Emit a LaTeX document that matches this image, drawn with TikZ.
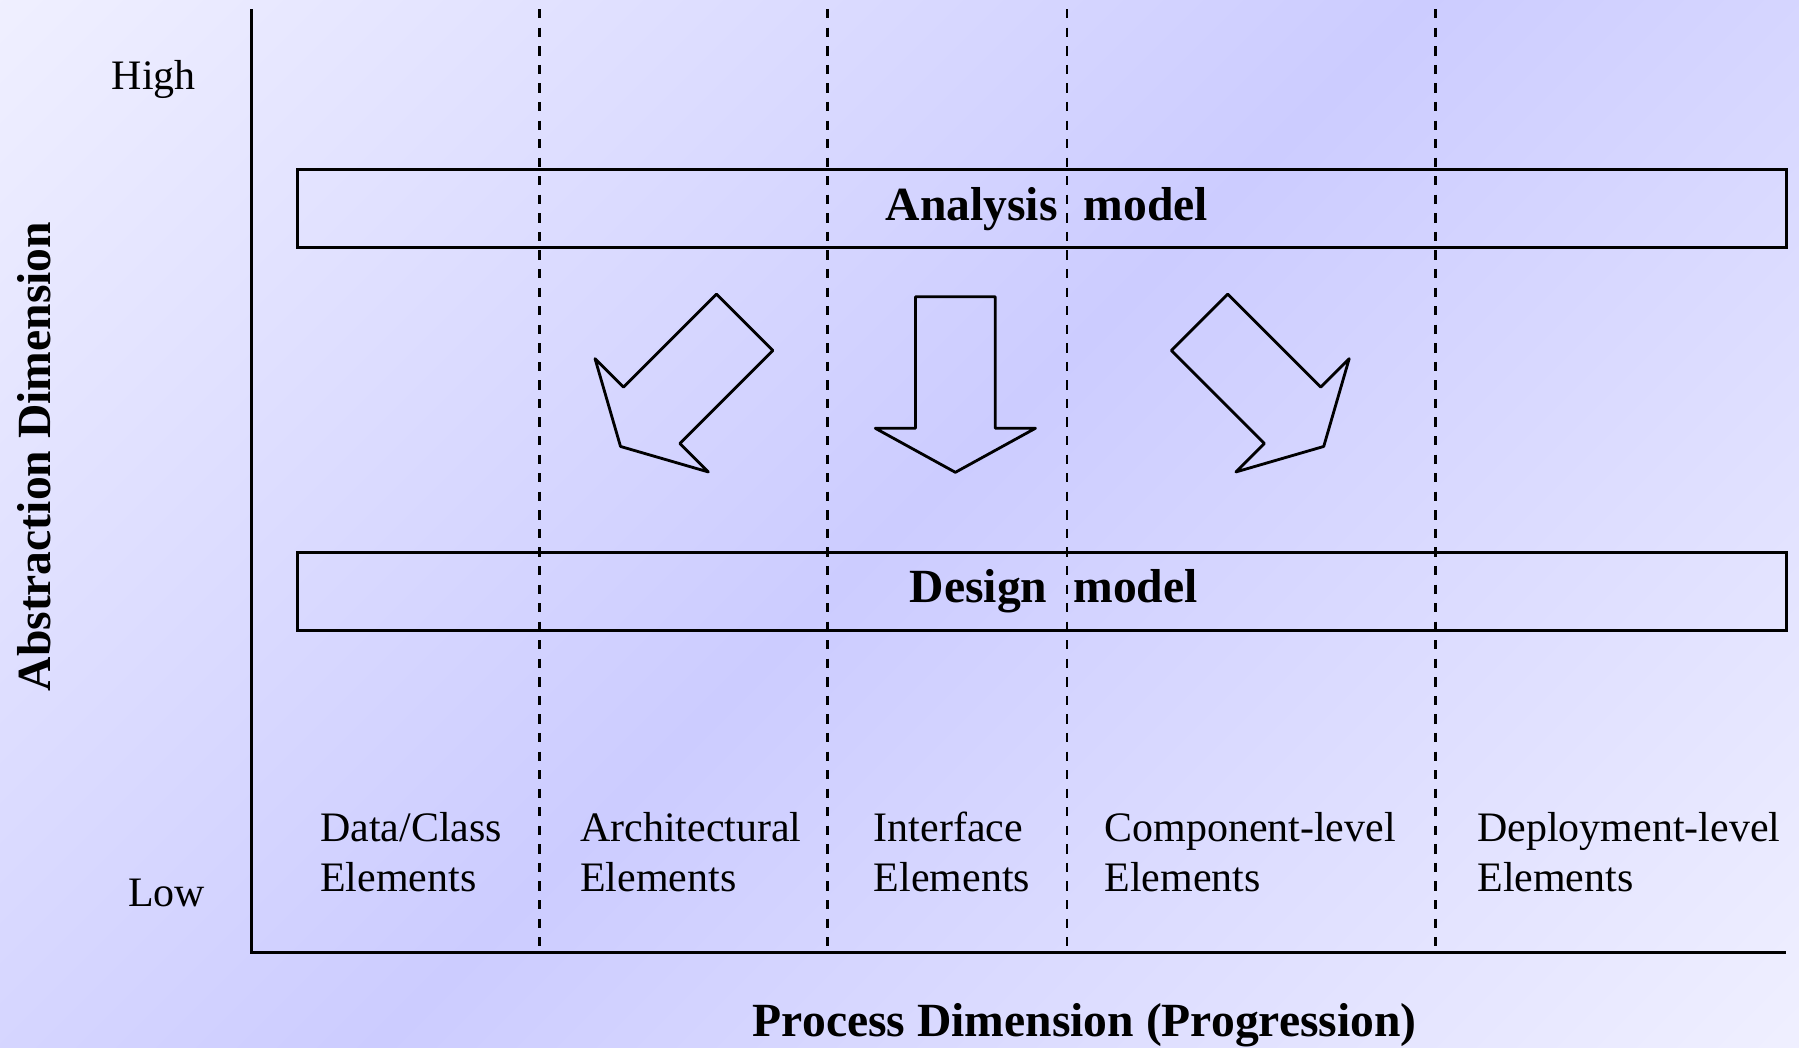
\documentclass[tikz,border=0pt]{standalone}
\usepackage{fontspec}
\setmainfont{Liberation Serif}
\usepackage{xcolor}
\definecolor{bandblue}{RGB}{204,204,255}
\definecolor{paleblue}{RGB}{254,254,255}
\pgfdeclareverticalshading{lavenderband}{100bp}{color(0bp)=(paleblue); color(50bp)=(bandblue); color(100bp)=(paleblue)}

\begin{document}
\begin{tikzpicture}[x=0.01cm,y=0.01cm]
      \tikzstyle{modelbox}=[draw,line width=0.7pt,minimum width=12.97cm,minimum height=0.68cm,font=\fontsize{11.8}{14}\selectfont\bfseries]
      \tikzstyle{colhead}=[font=\fontsize{10.4}{12.4}\selectfont,align=left,anchor=base west,inner sep=0pt]
      \tikzstyle{dimlabel}=[font=\fontsize{11.8}{14}\selectfont\bfseries,inner sep=0pt]
      \tikzstyle{divider}=[line width=0.7pt,dash pattern=on 2.3pt off 2.3pt]
      \tikzstyle{bigarrow}=[draw,line width=0.7pt,line join=round]
      \useasboundingbox (0,0) rectangle (1568,913);
      \shade[shading=lavenderband,shading angle=45] (0,0) rectangle (1568,913);
      % axes and column dividers
      \coordinate (top) at (219,905);
      \coordinate (origin) at (219,83);
      \coordinate (end) at (1557,83);
      \draw[line width=0.8pt] (top) -- (origin) -- (end);
      \foreach \x in {470,721,930,1251}
        \draw[divider] (\x,905) -- (\x,83);
      \node[modelbox] (analysis) at (908.5,731) {\hspace{0.08cm}\raisebox{-0.03cm}{Analysis\hspace{.55em}model}};
      \node[modelbox] (design) at (908.5,397.3) {\hspace{0.2cm}\raisebox{-0.03cm}{Design\hspace{.55em}model}};
      % the three big arrows
      \foreach \tx/\ty/\ang in {649.1/632.1/-45, 832.7/654.4/0, 1045.5/632.1/45}
        \draw[bigarrow,shift={(\tx,\ty)},rotate=\ang] (-34.7,0) -- (34.7,0) -- (34.7,-114.7) -- (69.8,-114.7)
          -- (0,-153.1) -- (-69.8,-114.7) -- (-34.7,-114.7) -- cycle;
      \node[colhead] (high) at (96.7,834.6) {High};
      \node[colhead] (low) at (111,123.3) {Low};
      \node[colhead] (data) at (278.5,135.8) {Data/Class\\Elements};
      \node[colhead] (arch) at (505,135.8) {Architectural\\Elements};
      \node[colhead] (iface) at (761,135.8) {Interface\\Elements};
      \node[colhead] (comp) at (962,135.8) {Component-level\\Elements};
      \node[colhead] (deploy) at (1287,135.8) {Deployment-level\\Elements};
      \node[dimlabel,rotate=90] (abstraction) at (30,515) {Abstraction Dimension};
      \node[dimlabel,anchor=base] (process) at (945.5,9.4) {Process Dimension (Progression)};
\end{tikzpicture}
\end{document}
